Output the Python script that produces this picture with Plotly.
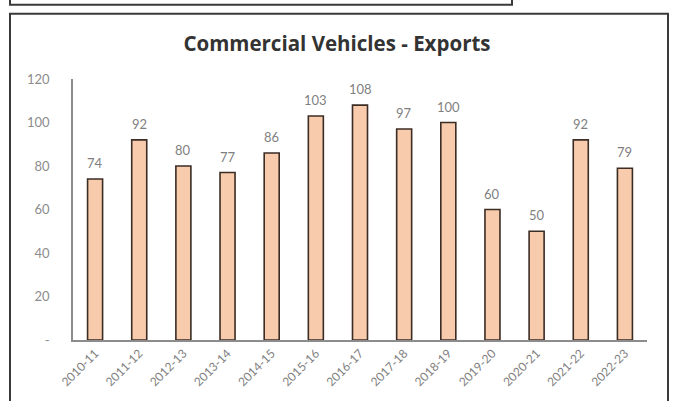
import plotly.graph_objects as go

# Commercial vehicle exports by financial year
years = ["2010-11", "2011-12", "2012-13", "2013-14", "2014-15", "2015-16", "2016-17",
         "2017-18", "2018-19", "2019-20", "2020-21", "2021-22", "2022-23"]
exports = [74, 92, 80, 77, 86, 103, 108, 97, 100, 60, 50, 92, 79]

y_ticks = [0, 20, 40, 60, 80, 100, 120]
y_tick_text = ["-", "20", "40", "60", "80", "100", "120"]

W, H = 674, 401
L, R, T, B = 73, 647, 79, 343  # plot area in pixels


def px_x(px):
    return (px - L) / (R - L)


def px_y(py):
    return (B - py) / (B - T)


fig = go.Figure()
fig.add_trace(go.Bar(
    x=years, y=exports,
    width=0.34,
    marker=dict(color="#F8CBAD", line=dict(color="#3b2c24", width=1.6)),
    hoverinfo="x+y",
))

for yr, v in zip(years, exports):
    fig.add_annotation(x=yr, y=v, text=str(v), showarrow=False,
                       yanchor="bottom", yshift=6,
                       font=dict(family="Lato", size=13, color="#7f7f7f"))

frame = dict(color="#3a3a3a", width=2)
fig.add_shape(type="rect", xref="paper", yref="paper",
              x0=px_x(10), x1=px_x(512), y0=px_y(4), y1=px_y(-20), line=frame,
              fillcolor="rgba(0,0,0,0)")
fig.add_shape(type="rect", xref="paper", yref="paper",
              x0=px_x(10), x1=px_x(668), y0=px_y(420), y1=px_y(13), line=frame,
              fillcolor="rgba(0,0,0,0)")

fig.update_layout(
    width=W, height=H,
    margin=dict(l=L, r=W - R, t=T, b=H - B, pad=0),
    paper_bgcolor="white", plot_bgcolor="white",
    showlegend=False,
    title=dict(text="<b>Commercial Vehicles - Exports</b>", x=0.5, xanchor="center",
               y=1 - 44 / H, yanchor="middle",
               font=dict(family="Open Sans", size=20.5, color="#333333")),
    bargap=0.66,
)
fig.update_xaxes(
    type="category", tickangle=-45, showline=True, linecolor="#8c8c8c", linewidth=1.5,
    ticks="", showgrid=False,
    tickfont=dict(family="Lato", size=12, color="#7f7f7f"),
)
fig.update_yaxes(
    range=[0, 120], tickvals=y_ticks, ticktext=y_tick_text,
    showline=True, linecolor="#8c8c8c", linewidth=1.5, showgrid=False, zeroline=False,
    ticks="", ticklabelstandoff=19,
    tickfont=dict(family="Lato", size=13, color="#8c8c8c"),
)

fig.write_html("out.html")
